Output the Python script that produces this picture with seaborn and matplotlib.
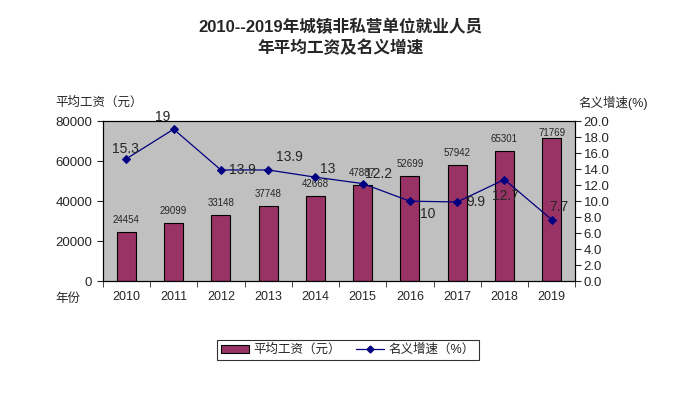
import numpy as np
import pandas as pd
import matplotlib
matplotlib.use("Agg")
import matplotlib.pyplot as plt
import seaborn as sns
from matplotlib.patches import Patch
from matplotlib.lines import Line2D

# data
years = ["2010", "2011", "2012", "2013", "2014", "2015", "2016", "2017", "2018", "2019"]
wages = [24454, 29099, 33148, 37748, 42668, 47887, 52699, 57942, 65301, 71769]
growth = [15.3, 19, 13.9, 13.9, 13, 12.2, 10, 9.9, 12.7, 7.7]
growth_text = ["15.3", "19", "13.9", "13.9", "13", "12.2", "10", "9.9", "12.7", "7.7"]

# label offsets for the growth numbers (points)
label_off = [(-1, 2, "center", "bottom"), (-8, 4, "center", "bottom"), (6, 0, "left", "center"),
             (6, 4, "left", "bottom"), (3, 1, "left", "bottom"), (2, 2, "left", "bottom"),
             (7, -4, "left", "top"), (7, 0, "left", "center"), (1, -7, "center", "top"),
             (-2, 4, "left", "bottom")]

sns.set_style("white")
plt.rcParams['font.family'] = ['Liberation Sans', 'Noto Sans CJK SC', 'DejaVu Sans']

bar_color = "#993366"
line_color = "#000080"

df = pd.DataFrame({"year": years, "wage": wages})

fig = plt.figure(figsize=(6.99, 3.96), dpi=100)
ax = fig.add_axes([0.147, 0.290, 0.676, 0.404])
ax.set_facecolor("#C0C0C0")

sns.barplot(data=df, x="year", y="wage", color=bar_color, saturation=1,
            width=0.4, edgecolor="black", linewidth=0.8, ax=ax)
for i, v in enumerate(wages):
    # keep the label inside the plot area for the tallest bar
    off = 5 if v < 70000 else 0
    ax.annotate(str(v), (i, v), xytext=(0, off), textcoords="offset points",
                ha="center", va="bottom", fontsize=7)

ax.set_ylim(0, 80000)
ax.set_yticks(np.arange(0, 80001, 20000))
ax.set_xlabel("")
ax.set_ylabel("")
ax.tick_params(axis="y", direction="out", length=4, labelsize=9.5, left=True)
ax.tick_params(axis="x", which="major", length=0, labelsize=9, pad=7)
ax.set_xticks(np.arange(-0.5, len(years)), minor=True)
ax.tick_params(axis="x", which="minor", direction="out", length=4, bottom=True)
ax.set_xlim(-0.5, len(years) - 0.5)

ax2 = ax.twinx()
sns.lineplot(x=np.arange(len(years)), y=growth, color=line_color, marker="D",
             markersize=4.5, markeredgecolor=line_color, linewidth=0.9, ax=ax2)
for i, (v, t) in enumerate(zip(growth, growth_text)):
    dx, dy, ha, va = label_off[i]
    ax2.annotate(t, (i, v), xytext=(dx, dy), textcoords="offset points",
                 ha=ha, va=va, fontsize=10)
ax2.set_ylim(0, 20)
ax2.set_yticks(np.arange(0, 20.1, 2))
ax2.set_yticklabels([f"{t:.1f}" for t in np.arange(0, 20.1, 2)])
ax2.tick_params(axis="y", direction="out", length=4, labelsize=9.5, right=True, pad=2)

for a in (ax, ax2):
    for s in a.spines.values():
        s.set_color("black")
        s.set_linewidth(0.8)

fig.text(0.487, 0.932, "2010--2019年城镇非私营单位就业人员", ha="center", va="center",
         fontsize=12, fontweight="bold")
fig.text(0.487, 0.879, "年平均工资及名义增速", ha="center", va="center",
         fontsize=12, fontweight="bold")
fig.text(0.079, 0.740, "平均工资（元）", ha="left", va="center", fontsize=9)
fig.text(0.827, 0.740, "名义增速(%)", ha="left", va="center", fontsize=9)
fig.text(0.079, 0.245, "年份", ha="left", va="center", fontsize=9)

handles = [Patch(facecolor=bar_color, edgecolor="black", linewidth=0.8),
           Line2D([0], [0], color=line_color, marker="D", markersize=3.5, linewidth=0.9)]
leg = fig.legend(handles, ["平均工资（元）", "名义增速（%）"], loc="center",
                 bbox_to_anchor=(0.498, 0.116), ncol=2, fontsize=9, frameon=True,
                 fancybox=False, edgecolor="black", handlelength=2.2, columnspacing=1.2,
                 borderpad=0.3, handletextpad=0.4)
leg.get_frame().set_linewidth(0.8)

fig.savefig("out.png", dpi=100)
